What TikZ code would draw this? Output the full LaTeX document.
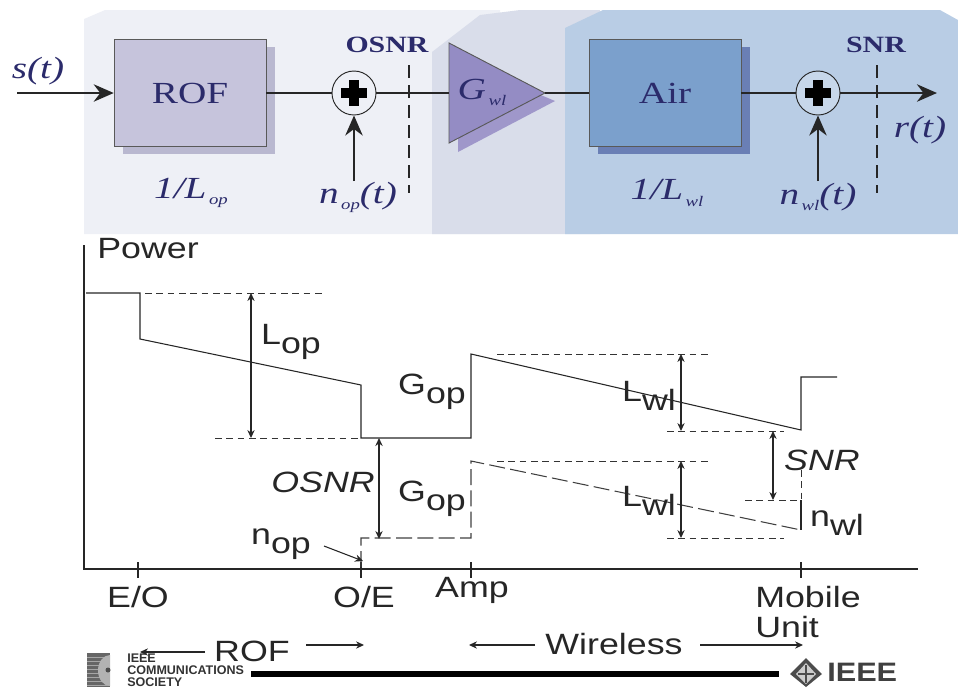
\documentclass[tikz,border=0pt]{standalone}
\usepackage{fontspec}
\setmainfont{Liberation Sans}
\newfontfamily\blockserif[FakeStretch=1.28]{Liberation Serif}
\newfontfamily\chartsans[FakeStretch=1.22]{Liberation Sans}
\newfontfamily\logosans[FakeStretch=1.15]{Liberation Sans}
\usepackage{tikz}
\usetikzlibrary{arrows.meta}

\definecolor{inkblue}{HTML}{2B2B6B}
\definecolor{panelrof}{HTML}{EEF0F6}
\definecolor{panelamp}{HTML}{D9DDEA}
\definecolor{panelair}{HTML}{B9CDE5}
\definecolor{amppurple}{HTML}{948CC4}
\definecolor{rofshade}{HTML}{B9B8D0}
\definecolor{airshade}{HTML}{6A7FB5}
\definecolor{rofblock}{HTML}{C6C4DC}
\definecolor{airblock}{HTML}{7BA0CC}
\newcommand{\lowsub}[1]{\raisebox{-0.3em}{#1}}
\newcommand{\blocksub}[1]{\raisebox{-0.2em}{\fontsize{11}{11}\selectfont\,#1}}

\tikzset{
	blocktext/.style={text=inkblue, font=\blockserif\itshape\fontsize{23}{23}\selectfont, inner sep=0pt},
	probetext/.style={text=inkblue, font=\blockserif\bfseries\fontsize{17.5}{17.5}\selectfont, inner sep=0pt},
	chartext/.style={text=black!85, font=\chartsans\fontsize{22}{22.5}\selectfont, inner sep=0pt},
	charital/.style={chartext, font=\chartsans\itshape\fontsize{22}{22}\selectfont},
	blockbox/.style={draw=black!65, minimum width=114pt, minimum height=80pt, inner sep=0pt, text=inkblue, font=\blockserif\fontsize{23}{23}\selectfont},
	signal/.style={line width=2pt, color=black!85},
	bigtip/.style={-{Stealth[length=15pt,width=13pt]}},
	sumnode/.style={circle, draw=black!85, line width=0.7pt, minimum size=33pt, inner sep=0pt},
	probe/.style={line width=2.2pt, dash pattern=on 10pt off 5pt, color=black!85},
	chartline/.style={line width=0.8pt, color=black!85},
	guide/.style={line width=0.6pt, color=black!80, dash pattern=on 5pt off 3.5pt},
	lossdash/.style={line width=0.8pt, color=black!75, dash pattern=on 12pt off 4pt},
	>={Stealth[length=6pt,width=5.5pt,inset=2pt]},
}

\begin{document}
\begin{tikzpicture}[x=0.75pt, y=-0.75pt]
	\useasboundingbox (0,0) rectangle (958,687);

	% background panels
	\fill [panelrof] (84,234) -- (84,19) -- (105,10) -- (500,10) -- (500,234) -- cycle;
	\fill [panelamp] (432,234) -- (432,52) -- (480,15) -- (520,10) -- (600,10) -- (600,234) -- cycle;
	\fill [panelair] (565,234) -- (565,28) -- (603,10) -- (940,10) -- (958,20) -- (958,234) -- cycle;

	% block diagram
	\fill [rofshade] (123,47) rectangle (275,154);
	\fill [airshade] (598,47) rectangle (750,154);
	\node (rof) [blockbox, fill=rofblock] at (190,93) {ROF};
	\node (air) [blockbox, fill=airblock] at (665,93) {Air};
	\node (sumop) [sumnode, fill=panelrof] at (354,93) {};
	\node (sumwl) [sumnode, fill=panelair!80!white] at (818,93) {};
	\fill [amppurple!90!white] (458,152) -- (458,60) -- (555,101) -- cycle;
	\draw [line width=0.7pt, color=black!65, fill=amppurple] (449,43) -- (449,143) -- (545,93) -- cycle;
	\coordinate (ampin) at (449,93);
	\coordinate (ampout) at (545,93);
	\coordinate (sin) at (17,93);
	\coordinate (rout) at (937,93);
	\coordinate (nopin) at (354,181);
	\coordinate (nwlin) at (818,181);

	\draw [signal, bigtip] (sin) -- (rof);
	\draw [signal] (rof) -- (sumop);
	\draw [signal] (sumop) -- (ampin);
	\draw [signal] (ampout) -- (air);
	\draw [signal] (air) -- (sumwl);
	\draw [signal, bigtip] (sumwl) -- (rout);
	\draw [signal, bigtip] (nopin) -- (sumop);
	\draw [signal, bigtip] (nwlin) -- (sumwl);
	\draw [black, line width=7pt] (341,93) -- (367,93) (354,80) -- (354,106);
	\draw [black, line width=7pt] (805,93) -- (831,93) (818,80) -- (818,106);

	\draw [probe] (409,65) -- (409,193);
	\draw [probe] (877,65) -- (877,193);

	\node (sigin) [blocktext] at (38,71) {s(t)};
	\node (sigout) [blocktext] at (920,130) {r(t)};
	\node (lossop) [blocktext] at (191,193) {1/L\blocksub{op}};
	\node (losswl) [blocktext] at (667,193) {1/L\blocksub{wl}};
	\node (noiseop) [blocktext] at (358,197) {n\blocksub{op}(t)};
	\node (noisewl) [blocktext] at (818,197) {n\blocksub{wl}(t)};
	\node (gainwl) [blocktext] at (482,92) {G\blocksub{wl}};
	\node (osnrprobe) [probetext] at (387,45) {OSNR};
	\node (snrprobe) [probetext] at (876,45) {SNR};

	% power levels
	\draw [chartline] (84,245) -- (84,569) -- (918,569);
	\draw [chartline] (138,562) -- (138,578);
	\draw [chartline] (361,562) -- (361,578);
	\draw [chartline] (471,562) -- (471,578);
	\draw [chartline] (801,562) -- (801,578);
	\draw [chartline] (86,293) -- (140,293) -- (140,339) -- (361,385) -- (361,438) -- (471,438) -- (471,354) -- (801,430) -- (801,377) -- (837,377);
	\draw [lossdash] (361,567) -- (361,538) -- (471,538) -- (471,461) -- (801,530);
	\draw [guide] (801,470) -- (801,500);
	\draw [chartline, line width=1.8pt] (801,500) -- (801,530);
	\draw [guide] (145,293) -- (326,293);
	\draw [guide] (215,438) -- (361,438);
	\draw [guide] (497,354) -- (710,354);
	\draw [guide] (667,431) -- (784,431);
	\draw [guide] (497,461) -- (710,461);
	\draw [guide] (667,538) -- (784,538);
	\draw [guide] (745,500) -- (800,500);

	\coordinate (lopt) at (251,293);
	\coordinate (lopb) at (251,438);
	\coordinate (lwlt) at (681,354);
	\coordinate (lwlb) at (681,431);
	\coordinate (ldat) at (681,461);
	\coordinate (ldab) at (681,538);
	\coordinate (snrt) at (773,431);
	\coordinate (snrb) at (773,500);
	\coordinate (osnrt) at (379,438);
	\coordinate (osnrb) at (379,539);
	\draw [chartline, <->] (lopt) -- (lopb);
	\draw [chartline, <->] (lwlt) -- (lwlb);
	\draw [chartline, <->] (ldat) -- (ldab);
	\draw [chartline, <->] (snrt) -- (snrb);
	\draw [chartline, <->, line width=1.4pt] (osnrt) -- (osnrb);

	\node (power) [chartext] at (148,249) {Power};
	\node (lop) [chartext] at (291,342) {L\lowsub{op}};
	\node (gop) [chartext] at (432,392) {G\lowsub{op}};
	\node (gda) [chartext] at (432,499) {G\lowsub{op}};
	\node (osnr) [charital] at (323,482) {OSNR};
	\node (nop) [chartext] at (281,544) {n\lowsub{op}};
	\node (lwl) [chartext] at (649,396) {L\lowsub{wl}};
	\node (lda) [chartext] at (649,501) {L\lowsub{wl}};
	\node (snr) [charital] at (822,460) {SNR};
	\node (nwl) [chartext] at (837,523) {n\lowsub{wl}};
	\coordinate (nopstart) at (324,546);
	\coordinate (nopfoot) at (363,561);
	\draw [chartline, ->] (nopstart) -- (nopfoot);

	% axis marks
	\node (eo) [chartext] at (138,597) {E/O};
	\node (oe) [chartext] at (364,597) {O/E};
	\node (amp) [chartext] at (472,590) {Amp};
	\node (mobile) [chartext, align=left, anchor=north west] at (755,586) {Mobile\\Unit};

	% spans
	\node (rofspan) [chartext] at (252,651) {ROF};
	\node (wireless) [chartext] at (614,644) {Wireless};
	\coordinate (rofleft) at (140,652);
	\coordinate (rofright) at (364,645);
	\coordinate (wlleft) at (469,645);
	\coordinate (wlright) at (803,645);
	\draw [chartline, ->] (205,652) -- (rofleft);
	\draw [chartline, ->] (306,645) -- (rofright);
	\draw [chartline, ->] (535,645) -- (wlleft);
	\draw [chartline, ->] (700,645) -- (wlright);

	% footer
	\fill [black] (251,671) rectangle (779,677);
	\fill [black!60] (87,653) rectangle (110,687);
	\foreach \y in {657,661,...,685}
		\draw [black!35, line width=0.7pt] (87,\y) -- (110,\y);
	\fill [black!30] (110,655) arc (-90:-270:12 and 15.5) -- cycle;
	\fill [black!70] (108,670) circle (2.5);
	\node (society) [anchor=base west, inner sep=0pt, text=black!80, font=\bfseries\fontsize{9.4}{9.4}\selectfont] at (127,662) {IEEE};
	\node (commsoc) [anchor=base west, inner sep=0pt, text=black!80, font=\bfseries\fontsize{9.4}{9.4}\selectfont] at (127,674) {COMMUNICATIONS};
	\node (socword) [anchor=base west, inner sep=0pt, text=black!80, font=\bfseries\fontsize{9.4}{9.4}\selectfont] at (127,686) {SOCIETY};
	\fill [black!70] (790,674) -- (806,658) -- (822,674) -- (806,687) -- cycle;
	\fill [black!20] (806,663) -- (816,674) -- (806,684) -- (796,674) -- cycle;
	\draw [black!70, line width=0.8pt] (798,674) -- (814,674) (806,665) -- (806,683);
	\node (ieee) [anchor=base west, inner sep=0pt, text=black!75, font=\logosans\bfseries\fontsize{20}{20}\selectfont] at (827,681) {IEEE};
\end{tikzpicture}
\end{document}
